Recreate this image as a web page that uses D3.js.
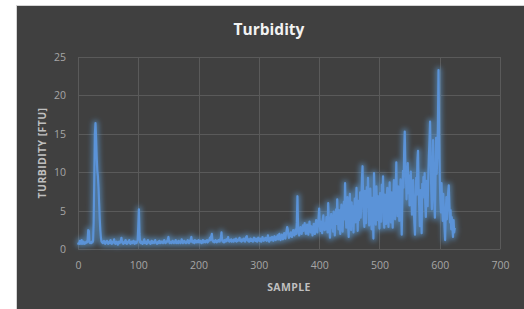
<!DOCTYPE html>
<html>
<head>
<meta charset="utf-8">
<script src="https://cdn.jsdelivr.net/npm/d3@7"></script>
<style>
  body { margin: 0; background: #fff; }
  text { font-family: "Open Sans", "Noto Sans", sans-serif; }
</style>
</head>
<body>
<script>
// turbidity readings, one per sample in blocks of 100
var samples0 = [0.6,0.8,0.7,1.1,0.9,0.7,1.2,0.8,0.7,1.0, 0.8,0.7,0.9,0.8,1.0,0.9,1.2,2.5,2.4,0.9,
  0.8,0.9,0.8,1.0,0.9,1.1,3.5,9.0,15.0,16.4, 14.5,12.0,10.2,9.5,8.0,6.0,4.0,2.5,1.5,1.0,
  0.9,0.8,1.0,1.1,0.8,0.7,1.0,0.9,1.1,0.8, 0.7,0.9,1.0,0.8,1.2,0.9,0.7,0.8,1.0,0.9,
  1.3,0.8,0.7,0.9,1.0,0.8,0.6,0.9,1.0,0.8, 0.9,1.1,1.5,1.0,0.8,0.7,0.9,1.0,0.8,1.2,
  0.9,0.7,0.8,1.0,0.9,1.2,0.8,0.7,0.9,1.0, 0.8,0.9,1.1,0.8,0.7,1.0,0.9,0.8,1.0,1.2];
var samples1 = [3.0,5.2,2.0,0.9,0.8,1.0,0.9,0.7,0.8,1.1, 1.3,0.8,0.9,1.0,0.7,0.8,1.2,0.9,1.0,0.8,
  0.7,0.9,1.1,0.8,1.0,0.9,0.8,1.0,1.2,0.9, 0.8,0.7,0.9,1.0,0.8,1.1,0.9,0.8,1.0,0.9,
  1.0,0.8,0.9,1.2,0.9,0.8,1.0,0.9,1.1,1.3, 1.6,1.0,0.8,0.9,1.0,0.8,0.9,1.1,0.9,0.8,
  1.0,0.9,1.2,0.8,0.9,1.0,0.8,1.1,0.9,1.0, 0.8,0.9,1.3,1.0,0.8,0.9,1.1,0.9,1.0,0.8,
  1.0,0.9,1.2,1.0,0.8,1.1,1.0,1.3,1.6,1.0, 0.9,1.1,1.0,0.8,1.2,1.0,0.9,1.1,1.0,0.9];
var samples2 = [1.2,1.0,0.9,1.1,1.0,0.8,1.0,1.2,0.9,1.1, 1.0,0.9,1.1,1.0,1.2,0.9,1.0,1.1,1.3,1.5,
  1.2,1.7,2.0,1.2,1.0,1.1,0.9,1.0,1.2,1.0, 0.9,1.1,1.0,1.2,1.1,1.0,1.3,1.5,2.2,1.2,
  1.0,1.1,0.9,1.2,1.1,1.0,1.3,1.1,1.2,1.6, 1.1,1.0,1.2,1.1,1.3,1.0,1.1,1.2,1.0,1.3,
  1.2,1.1,1.4,1.0,1.2,1.1,1.3,1.2,1.5,1.1, 1.2,1.0,1.3,1.1,1.2,1.4,1.1,1.0,1.3,1.6,
  1.7,1.2,1.1,1.3,1.0,1.2,1.4,1.1,1.3,1.2, 1.0,1.3,1.5,1.2,1.1,1.4,1.2,1.0,1.3,1.5];
var samples3 = [1.2,1.1,1.4,1.3,1.0,1.2,1.6,1.3,1.1,1.4, 1.2,1.5,1.3,1.1,1.4,1.8,1.2,1.0,1.3,1.5,
  1.2,1.4,1.6,1.3,1.1,1.5,1.7,1.3,1.2,1.6, 1.4,1.8,1.3,1.5,2.0,1.4,1.2,1.6,1.9,1.5,
  1.3,1.7,2.1,1.6,1.4,2.0,2.4,2.9,2.6,1.8, 1.5,2.0,1.7,2.2,1.9,1.6,2.1,2.5,2.0,1.8,
  2.2,2.6,2.0,3.5,6.9,3.0,2.1,1.8,2.4,2.9, 2.2,2.0,2.6,3.1,2.4,2.8,3.4,2.5,2.0,2.7,
  3.2,2.4,1.9,2.8,3.6,2.6,2.2,3.0,2.5,1.8, 2.6,3.3,2.4,2.0,3.1,3.8,2.7,2.2,3.4,4.0];
var samples4 = [5.3,3.2,2.4,3.6,2.8,2.1,3.9,4.4,3.1,2.5, 3.4,2.6,4.2,3.3,2.2,6.0,4.1,2.7,1.5,3.5,
  4.6,2.8,3.8,2.3,4.9,3.1,1.8,4.0,5.2,3.3, 6.5,4.2,2.6,5.1,3.4,2.0,4.7,5.8,3.6,2.3,
  4.4,6.2,3.9,8.6,5.0,2.8,4.6,6.8,3.2,1.6, 5.4,7.2,4.3,2.5,6.1,3.7,5.6,2.2,4.8,6.6,
  3.5,5.9,8.0,4.6,2.4,6.3,3.8,5.2,7.4,4.1, 6.0,9.2,10.8,6.4,4.0,2.9,7.6,5.3,3.4,8.1,
  5.5,9.3,6.2,3.1,4.8,7.9,5.0,2.6,6.7,4.4, 1.4,9.9,7.0,4.9,3.2,8.2,5.7,3.8,6.9,4.5];
var samples5 = [2.7,7.3,5.1,3.6,8.4,6.0,9.5,4.2,2.8,7.1, 5.4,3.3,6.6,8.0,4.7,2.9,6.2,8.7,5.0,3.5,
  7.4,4.6,2.8,6.8,9.0,5.5,3.9,7.6,11.3,6.4, 4.3,8.2,5.6,3.7,7.0,9.1,4.8,1.9,6.3,10.2,
  8.0,12.6,15.3,11.0,9.4,6.5,8.8,11.2,7.3,9.6, 5.7,8.4,10.1,6.8,4.5,7.9,9.0,5.2,3.4,1.9,
  6.6,9.3,7.1,11.5,12.8,8.2,5.4,3.0,7.7,6.1, 2.1,8.5,6.7,9.4,7.8,9.9,6.0,4.2,8.9,7.0,
  5.6,9.2,12.1,14.0,16.6,11.8,7.5,5.2,9.0,14.2, 10.5,6.3,4.1,8.7,14.5,9.8,12.0,16.0,23.3,15.0];
var samples6 = [9.6,6.4,4.8,8.6,5.9,3.7,7.2,5.0,2.8,1.2, 4.6,6.8,3.9,5.5,7.4,8.3,6.0,3.5,5.1,2.6,
  4.2,3.0,1.6,3.8,2.2,2.8];

var xTicks = [0, 100, 200, 300, 400, 500, 600, 700];
var yTicks = [0, 5, 10, 15, 20, 25];

var turbidity = samples0.concat(samples1, samples2, samples3, samples4, samples5, samples6);
var data = turbidity.map(function(v, i) { return { sample: i, value: v }; });

var W = 524, H = 309;
var margin = { left: 78, right: 24, top: 57, bottom: 60 };

var svg = d3.select("body").append("svg")
  .attr("width", W)
  .attr("height", H);

// chart panel
svg.append("rect")
  .attr("x", 16.5).attr("y", 5.5)
  .attr("width", W).attr("height", H)
  .attr("fill", "#404040")
  .attr("stroke", "#d4d4d4");

var x = d3.scaleLinear().domain([0, 700]).range([margin.left, W - margin.right]);
var y = d3.scaleLinear().domain([0, 25]).range([H - margin.bottom + 0.3, margin.top]);

// gridlines
svg.append("g")
  .selectAll("line.h").data(yTicks).enter().append("line")
  .attr("x1", x(0)).attr("x2", x(700))
  .attr("y1", function(d) { return Math.round(y(d)) + 0.5; })
  .attr("y2", function(d) { return Math.round(y(d)) + 0.5; })
  .attr("stroke", "#5a5a5a");
svg.append("g")
  .selectAll("line.v").data(xTicks).enter().append("line")
  .attr("y1", y(0)).attr("y2", y(25))
  .attr("x1", function(d) { return Math.round(x(d)) + 0.5; })
  .attr("x2", function(d) { return Math.round(x(d)) + 0.5; })
  .attr("stroke", "#5a5a5a");

// axes (labels only)
var xAxis = svg.append("g")
  .attr("transform", "translate(0," + y(0) + ")")
  .call(d3.axisBottom(x).tickValues(xTicks).tickSize(0).tickPadding(12));
var yAxis = svg.append("g")
  .attr("transform", "translate(" + x(0) + ",0)")
  .call(d3.axisLeft(y).tickValues(yTicks).tickSize(0).tickPadding(12));
[xAxis, yAxis].forEach(function(a) {
  a.select(".domain").remove();
  a.selectAll("text")
    .attr("fill", "#a6a6a6")
    .style("font-size", "10.5px")
    .style("font-family", "'Open Sans', sans-serif");
});

// glow
var defs = svg.append("defs");
var glow = defs.append("filter").attr("id", "glow")
  .attr("x", "-10%").attr("y", "-10%").attr("width", "120%").attr("height", "120%");
glow.append("feGaussianBlur").attr("stdDeviation", 2.5);

var line = d3.line()
  .x(function(d) { return x(d.sample); })
  .y(function(d) { return y(d.value); });

svg.append("path").datum(data)
  .attr("d", line)
  .attr("fill", "none")
  .attr("stroke", "#5b9bd5")
  .attr("stroke-width", 6)
  .attr("stroke-opacity", 0.6)
  .attr("stroke-linejoin", "round")
  .attr("filter", "url(#glow)");

svg.append("path").datum(data)
  .attr("d", line)
  .attr("fill", "none")
  .attr("stroke", "#5b93d8")
  .attr("stroke-width", 2.2)
  .attr("stroke-linejoin", "round");

// titles
svg.append("text")
  .attr("x", 269).attr("y", 35)
  .attr("text-anchor", "middle")
  .attr("fill", "#f2f2f2")
  .style("font-size", "15.5px")
  .style("font-weight", "bold")
  .text("Turbidity");

svg.append("text")
  .attr("x", 289).attr("y", 291)
  .attr("text-anchor", "middle")
  .attr("fill", "#bfbfbf")
  .style("font-size", "10.5px")
  .style("font-weight", "bold")
  .style("letter-spacing", "0.4px")
  .text("SAMPLE");

svg.append("text")
  .attr("transform", "translate(46,153) rotate(-90)")
  .attr("text-anchor", "middle")
  .attr("fill", "#bfbfbf")
  .style("font-size", "10.5px")
  .style("font-weight", "bold")
  .style("letter-spacing", "0.4px")
  .text("TURBIDITY [FTU]");
</script>
</body>
</html>
